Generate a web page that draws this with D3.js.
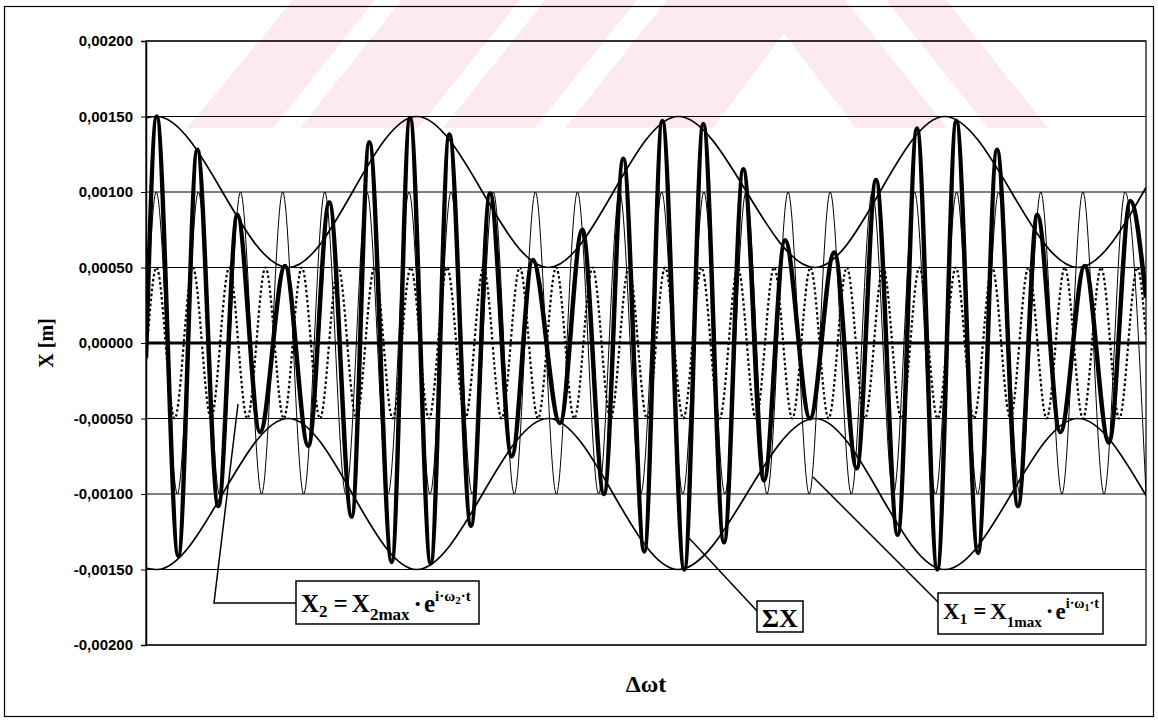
<!DOCTYPE html>
<html>
<head>
<meta charset="utf-8">
<script src="https://cdn.jsdelivr.net/npm/d3@7"></script>
<style>
  html, body { margin: 0; padding: 0; background: #fff; }
  svg { display: block; }
</style>
</head>
<body>
<svg id="chart" width="1158" height="720"></svg>
<script>
// ---------------- DATA ----------------
// x axis: Δωt in arbitrary units 0..100 across the plot
const yTicks = [0.002, 0.0015, 0.001, 0.0005, 0, -0.0005, -0.001, -0.0015, -0.002];
const yTickLabels = ["0,00200", "0,00150", "0,00100", "0,00050", "0,00000", "-0,00050", "-0,00100", "-0,00150", "-0,00200"];

// X1 = X1max·e^(iω1t)  (thin line) – extrema
const x1T = [0, 1.03, 3.14, 5.24, 7.35, 9.45, 11.56, 13.67, 15.77, 17.88, 19.98, 22.09, 24.20, 26.30, 28.41, 30.51, 32.62, 34.73, 36.83, 38.94, 41.04, 43.15, 45.26, 47.36, 49.47, 51.57, 53.68, 55.79, 57.89, 60.00, 62.10, 64.21, 66.32, 68.42, 70.53, 72.63, 74.74, 76.85, 78.95, 81.06, 83.16, 85.27, 87.38, 89.48, 91.59, 93.69, 95.80, 97.91, 100];
const x1V = [0.00003, 0.001, -0.001, 0.001, -0.001, 0.001, -0.001, 0.001, -0.001, 0.001, -0.001, 0.001, -0.001, 0.001, -0.001, 0.001, -0.001, 0.001, -0.001, 0.001, -0.001, 0.001, -0.001, 0.001, -0.001, 0.001, -0.001, 0.001, -0.001, 0.001, -0.001, 0.001, -0.001, 0.001, -0.001, 0.001, -0.001, 0.001, -0.001, 0.001, -0.001, 0.001, -0.001, 0.001, -0.001, 0.001, -0.001, 0.001, -0.001];

// X2 = X2max·e^(iω2t)  (dotted line)
const x2T = [0, 1.05, 2.87, 4.68, 6.50, 8.32, 10.13, 11.95, 13.77, 15.58, 17.40, 19.22, 21.03, 22.85, 24.66, 26.48, 28.30, 30.11, 31.93, 33.75, 35.56, 37.38, 39.20, 41.01, 42.83, 44.65, 46.46, 48.28, 50.10, 51.91, 53.73, 55.55, 57.36, 59.18, 60.99, 62.81, 64.63, 66.44, 68.26, 70.08, 71.89, 73.71, 75.53, 77.34, 79.16, 80.98, 82.79, 84.61, 86.43, 88.24, 90.06, 91.88, 93.69, 95.51, 97.32, 99.14, 100];
const x2V = [-0.00012, 0.0005, -0.0005, 0.0005, -0.0005, 0.0005, -0.0005, 0.0005, -0.0005, 0.0005, -0.0005, 0.0005, -0.0005, 0.0005, -0.0005, 0.0005, -0.0005, 0.0005, -0.0005, 0.0005, -0.0005, 0.0005, -0.0005, 0.0005, -0.0005, 0.0005, -0.0005, 0.0005, -0.0005, 0.0005, -0.0005, 0.0005, -0.0005, 0.0005, -0.0005, 0.0005, -0.0005, 0.0005, -0.0005, 0.0005, -0.0005, 0.0005, -0.0005, 0.0005, -0.0005, 0.0005, -0.0005, 0.0005, -0.0005, 0.0005, -0.0005, 0.0005, -0.0005, 0.0005, -0.0005, 0.0005, 0.00004];

// ΣX (thick line)
const sumT = [0, 1.07, 3.23, 5.13, 7.23, 9.13, 11.40, 13.90, 16.23, 18.33, 20.57, 22.33, 24.57, 26.40, 28.47, 30.33, 32.50, 34.40, 36.57, 38.67, 41.40, 43.63, 45.80, 47.73, 49.83, 51.63, 53.83, 55.73, 57.80, 59.73, 61.80, 63.90, 66.40, 68.83, 71.07, 73.00, 75.17, 77.10, 79.13, 81.03, 83.20, 85.10, 87.20, 89.13, 91.43, 93.87, 96.30, 98.43, 100];
const sumV = [-0.00010, 0.00150, -0.00141, 0.00128, -0.00108, 0.00085, -0.00059, 0.00051, -0.00068, 0.00093, -0.00115, 0.00133, -0.00145, 0.00149, -0.00146, 0.00138, -0.00121, 0.00099, -0.00075, 0.00055, -0.00053, 0.00075, -0.00100, 0.00122, -0.00138, 0.00147, -0.00150, 0.00145, -0.00132, 0.00115, -0.00091, 0.00068, -0.00050, 0.00060, -0.00083, 0.00108, -0.00127, 0.00142, -0.00150, 0.00147, -0.00139, 0.00128, -0.00108, 0.00085, -0.00059, 0.00051, -0.00066, 0.00094, 0.00030];

// envelopes
const envT = [0, 1.07, 14.23, 27.07, 40.23, 53.23, 66.90, 79.87, 93.20, 100];
const envUpper = [0.00149, 0.0015, 0.0005, 0.0015, 0.0005, 0.0015, 0.0005, 0.0015, 0.0005, 0.00103];
const envLower = [-0.00149, -0.0015, -0.0005, -0.0015, -0.0005, -0.0015, -0.0005, -0.0015, -0.0005, -0.00101];

// ---------------- DRAWING ----------------
const svg = d3.select("#chart");
const L = 146, R = 1146, T = 41, B = 645;
const x = d3.scaleLinear().domain([0, 100]).range([L, R]);
const y = d3.scaleLinear().domain([-0.002, 0.002]).range([B, T]);

svg.append("rect").attr("width", 1158).attr("height", 720).attr("fill", "#fff");

// faint watermark (decorative)
const wm = svg.append("g");
const pink = "#fdeaee";
wm.append("polygon").attr("points", "187,128 293,0 946,0 1048,128").attr("fill", pink);
[
  "273,128 300,128 402,0 375,0",
  "418,128 443,128 545,0 520,0",
  "535,128 565,128 667,0 637,0",
  "713,128 784,33 856,128",
  "845,0 886,0 988,128 947,128"
].forEach(p => wm.append("polygon").attr("points", p).attr("fill", "#fff"));

// outer frame
svg.append("rect").attr("x", 4.5).attr("y", 6.5).attr("width", 1149).attr("height", 710)
  .attr("fill", "none").attr("stroke", "#000").attr("stroke-width", 1.2);

// gridlines
svg.append("g").selectAll("line").data(yTicks).join("line")
  .attr("x1", L).attr("x2", R)
  .attr("y1", d => y(d)).attr("y2", d => y(d))
  .attr("stroke", "#000")
  .attr("stroke-width", d => d === 0 ? 3 : 1);

// plot frame
svg.append("rect").attr("x", L).attr("y", T).attr("width", R - L).attr("height", B - T)
  .attr("fill", "none").attr("stroke", "#000").attr("stroke-width", 1.2);

// axis
const yAxis = d3.axisLeft(y).tickValues(yTicks)
  .tickFormat((d, i) => yTickLabels[i]).tickSize(5).tickPadding(8);
const ax = svg.append("g").attr("transform", `translate(${L},0)`).call(yAxis);
ax.select(".domain").attr("stroke", "#000").attr("stroke-width", 1.5);
ax.selectAll(".tick line").attr("stroke", "#000");
ax.selectAll(".tick text").attr("fill", "#000")
  .style("font-family", "'Liberation Sans', Arial, sans-serif")
  .style("font-weight", "bold").style("font-size", "15px");

// clip
svg.append("clipPath").attr("id", "clip").append("rect")
  .attr("x", L).attr("y", T - 2).attr("width", R - L).attr("height", B - T + 4);
const plot = svg.append("g").attr("clip-path", "url(#clip)");

const line = d3.line().x(d => x(d[0])).y(d => y(d[1])).curve(d3.curveMonotoneX);
const zip = (a, b) => a.map((t, i) => [t, b[i]]);

plot.append("path").datum(zip(x1T, x1V)).attr("d", line)
  .attr("fill", "none").attr("stroke", "#000").attr("stroke-width", 1);
plot.append("path").datum(zip(x2T, x2V)).attr("d", line)
  .attr("fill", "none").attr("stroke", "#000").attr("stroke-width", 2.2)
  .attr("stroke-dasharray", "2.5,2.5");
plot.append("path").datum(zip(sumT, sumV)).attr("d", line)
  .attr("fill", "none").attr("stroke", "#000").attr("stroke-width", 4.5)
  .attr("stroke-linejoin", "round");
plot.append("path").datum(zip(envT, envUpper)).attr("d", line)
  .attr("fill", "none").attr("stroke", "#000").attr("stroke-width", 1.7);
plot.append("path").datum(zip(envT, envLower)).attr("d", line)
  .attr("fill", "none").attr("stroke", "#000").attr("stroke-width", 1.7);

// axis titles
const serif = "'Liberation Serif', 'Times New Roman', serif";
svg.append("text").attr("transform", `translate(53,${(T + B) / 2}) rotate(-90)`)
  .attr("text-anchor", "middle").style("font-family", serif)
  .style("font-weight", "bold").style("font-size", "20px").text("X [m]");
svg.append("text").attr("x", (L + R) / 2).attr("y", 692)
  .attr("text-anchor", "middle").style("font-family", serif)
  .style("font-weight", "bold").style("font-size", "24px").text("Δωt");

// leader lines
const ann = svg.append("g").attr("fill", "none").attr("stroke", "#000").attr("stroke-width", 1.5);
ann.append("polyline").attr("points", "238,404 214,603 296,603");
ann.append("line").attr("x1", 689).attr("y1", 538).attr("x2", 757).attr("y2", 611);
ann.append("line").attr("x1", 813).attr("y1", 477).attr("x2", 939).attr("y2", 603);

// formula boxes
function box(x0, y0, w, h) {
  svg.append("rect").attr("x", x0).attr("y", y0).attr("width", w).attr("height", h)
    .attr("fill", "#fff").attr("stroke", "#000").attr("stroke-width", 1.5);
}
function formula(x0, base, idx, fs, subFs, supFs) {
  const t = svg.append("text").attr("x", x0).attr("y", base)
    .style("font-family", serif).style("font-weight", "bold").style("font-size", fs + "px");
  t.append("tspan").text("X");
  t.append("tspan").attr("dy", 5).style("font-size", subFs + "px").text(idx);
  t.append("tspan").attr("dy", -5).attr("dx", 6).text("=");
  t.append("tspan").attr("dx", 4).text("X");
  t.append("tspan").attr("dy", 8).style("font-size", subFs + "px").text(idx + "max");
  t.append("tspan").attr("dy", -8).attr("dx", 4).text("·");
  t.append("tspan").attr("dx", 2).text("e");
  t.append("tspan").attr("dy", -11).style("font-size", supFs + "px").text("i·ω");
  t.append("tspan").attr("dy", 3).style("font-size", (supFs - 4) + "px").text(idx);
  t.append("tspan").attr("dy", -3).style("font-size", supFs + "px").text("·t");
}
box(296, 581, 183, 43);
formula(301, 612, "2", 25, 17, 15);
box(938, 593, 165, 41);
formula(943, 619, "1", 23, 15, 14);
box(757, 601, 46, 31);
svg.append("text").attr("x", 780).attr("y", 627).attr("text-anchor", "middle")
  .style("font-family", serif).style("font-weight", "bold").style("font-size", "26px").text("ΣX");
</script>
</body>
</html>
